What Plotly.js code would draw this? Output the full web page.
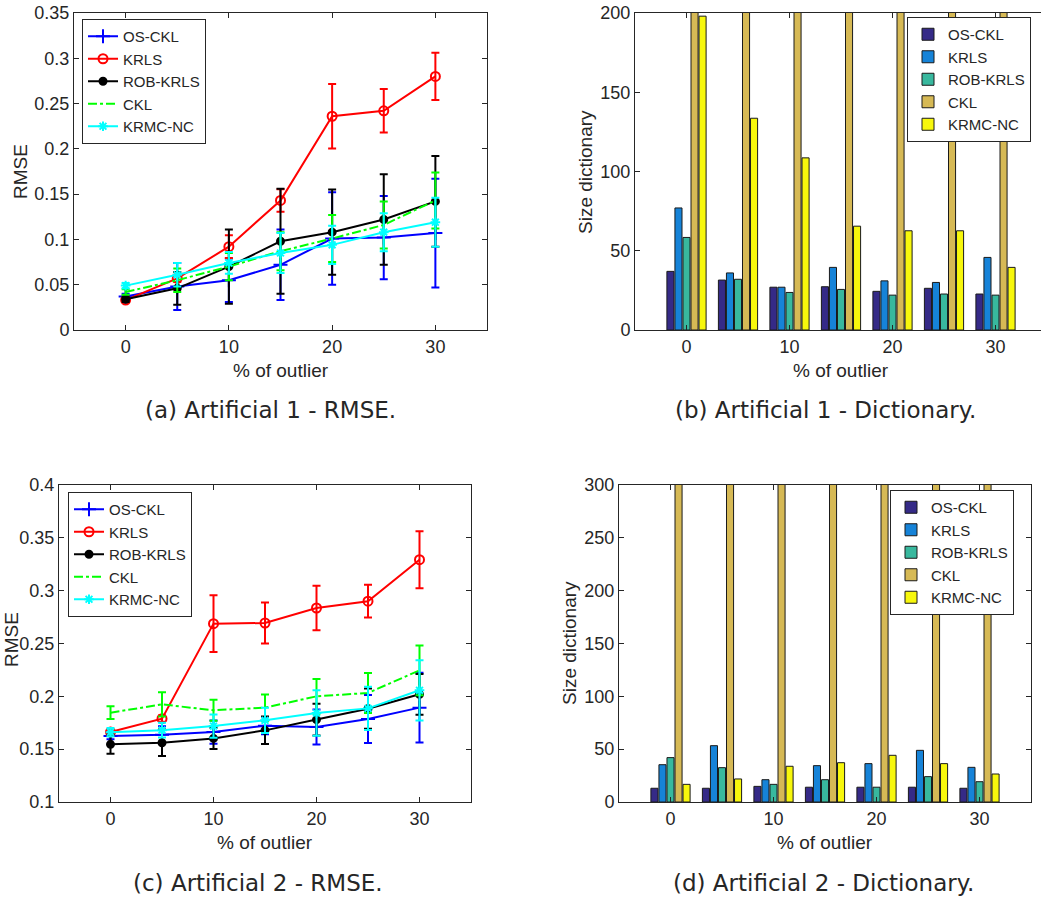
<!DOCTYPE html>
<html>
<head>
<meta charset="utf-8">
<script src="https://cdn.plot.ly/plotly-3.0.1.min.js"></script>
<style>
  html, body { margin: 0; padding: 0; background: #fff; overflow: hidden; }
  #fig { width: 1050px; height: 900px; }
</style>
</head>
<body>
<div id="fig"></div>
<script>
// Percentage of outliers injected in the training data
const outlier = [0, 5, 10, 15, 20, 25, 30];
const methods = ['OS-CKL', 'KRLS', 'ROB-KRLS', 'CKL', 'KRMC-NC'];

// Artificial 1 - RMSE (mean and standard deviation)
const rmse1_os   = [0.037, 0.048, 0.055, 0.072, 0.101, 0.102, 0.107];
const rmse1_osSd = [0.003, 0.026, 0.024, 0.039, 0.051, 0.046, 0.060];
const rmse1_krls   = [0.033, 0.057, 0.092, 0.143, 0.236, 0.242, 0.280];
const rmse1_krlsSd = [0.002, 0.004, 0.0125, 0.0125, 0.0355, 0.024, 0.026];
const rmse1_rob   = [0.034, 0.046, 0.070, 0.098, 0.108, 0.122, 0.142];
const rmse1_robSd = [0.003, 0.018, 0.041, 0.058, 0.047, 0.050, 0.050];
const rmse1_ckl   = [0.042, 0.055, 0.070, 0.087, 0.101, 0.116, 0.143];
const rmse1_cklSd = [0.003, 0.013, 0.015, 0.021, 0.026, 0.026, 0.031];
const rmse1_krmc   = [0.049, 0.061, 0.074, 0.085, 0.094, 0.108, 0.119];
const rmse1_krmcSd = [0.003, 0.013, 0.012, 0.022, 0.021, 0.021, 0.027];

// Artificial 1 - dictionary size
const dict1_os   = [37, 31.5, 27, 27.3, 24.4, 26.3, 22.7];
const dict1_krls = [77, 36, 27, 39.5, 31, 30, 45.8];
const dict1_rob  = [58.4, 32, 23.7, 25.6, 22, 22.7, 22];
const dict1_ckl  = [500, 500, 500, 500, 500, 500, 500];
const dict1_krmc = [198, 133.6, 108.6, 65.5, 62.6, 62.6, 39.5];

// Artificial 2 - RMSE (mean and standard deviation)
const rmse2_os   = [0.1625, 0.1637, 0.1662, 0.1722, 0.171, 0.1785, 0.1893];
const rmse2_osSd = [0.003, 0.008, 0.011, 0.008, 0.0165, 0.0227, 0.033];
const rmse2_krls   = [0.1662, 0.1789, 0.2688, 0.2694, 0.2836, 0.290, 0.3293];
const rmse2_krlsSd = [0.002, 0.003, 0.0268, 0.0194, 0.021, 0.0155, 0.027];
const rmse2_rob   = [0.1546, 0.1561, 0.1602, 0.1678, 0.178, 0.1883, 0.2019];
const rmse2_robSd = [0.009, 0.0125, 0.010, 0.013, 0.015, 0.019, 0.0193];
const rmse2_ckl   = [0.1845, 0.1924, 0.1868, 0.1893, 0.200, 0.2032, 0.2246];
const rmse2_cklSd = [0.006, 0.0115, 0.010, 0.0125, 0.0165, 0.019, 0.0235];
const rmse2_krmc   = [0.166, 0.168, 0.1719, 0.1773, 0.1842, 0.1886, 0.2057];
const rmse2_krmcSd = [0.004, 0.007, 0.011, 0.012, 0.0215, 0.0205, 0.0285];

// Artificial 2 - dictionary size
const dict2_os   = [13, 13, 14.8, 14, 14, 14, 13];
const dict2_krls = [35.3, 53.3, 21.1, 34.4, 36.3, 48.9, 32.8];
const dict2_rob  = [42, 32.5, 16.7, 21.1, 14, 24, 19.2];
const dict2_ckl  = [500, 500, 500, 500, 500, 500, 500];
const dict2_krmc = [16.7, 21.8, 33.8, 37.2, 44.2, 36.3, 26.5];

// ---- styling ----
const W = 1050, H = 900;
const px = v => v / W;
const py = v => 1 - v / H;
const txt = '#262626';
const tickFont = { family: 'Liberation Sans, Arial, sans-serif', size: 18, color: txt };

const lineStyles = [
  { color: '#0000ff', symbol: 'cross-thin-open', size: 10, dash: 'solid' },
  { color: '#ff0000', symbol: 'circle-open', size: 9, dash: 'solid' },
  { color: '#000000', symbol: 'circle', size: 7, dash: 'solid' },
  { color: '#00ff00', symbol: null, size: 0, dash: 'dashdot' },
  { color: '#00ffff', symbol: 'asterisk-open', size: 8, dash: 'solid' }
];
const barColors = ['#352a87', '#1683d8', '#38b89e', '#d6b955', '#f7f70c'];

function lineTrace(i, y, sd, xa, ya, leg) {
  const s = lineStyles[i];
  const t = {
    type: 'scatter', x: outlier, y: y, name: methods[i],
    xaxis: xa, yaxis: ya, legend: leg,
    mode: s.symbol ? 'lines+markers' : 'lines',
    line: { color: s.color, width: 2, dash: s.dash },
    error_y: { type: 'data', array: sd, visible: true, color: s.color, thickness: 2, width: 4 },
    cliponaxis: true
  };
  if (s.symbol) {
    t.marker = { symbol: s.symbol, size: s.size, color: s.color,
                 line: { color: s.color, width: 2 } };
  }
  return t;
}

function barTrace(i, y, xa, ya, leg) {
  return {
    type: 'bar', x: outlier, y: y, name: methods[i],
    xaxis: xa, yaxis: ya, legend: leg,
    marker: { color: barColors[i], line: { color: '#1a1a1a', width: 1 } }
  };
}

const data = [
  lineTrace(0, rmse1_os, rmse1_osSd, 'x', 'y', 'legend'),
  lineTrace(1, rmse1_krls, rmse1_krlsSd, 'x', 'y', 'legend'),
  lineTrace(2, rmse1_rob, rmse1_robSd, 'x', 'y', 'legend'),
  lineTrace(3, rmse1_ckl, rmse1_cklSd, 'x', 'y', 'legend'),
  lineTrace(4, rmse1_krmc, rmse1_krmcSd, 'x', 'y', 'legend'),

  barTrace(0, dict1_os, 'x2', 'y2', 'legend2'),
  barTrace(1, dict1_krls, 'x2', 'y2', 'legend2'),
  barTrace(2, dict1_rob, 'x2', 'y2', 'legend2'),
  barTrace(3, dict1_ckl, 'x2', 'y2', 'legend2'),
  barTrace(4, dict1_krmc, 'x2', 'y2', 'legend2'),

  lineTrace(0, rmse2_os, rmse2_osSd, 'x3', 'y3', 'legend3'),
  lineTrace(1, rmse2_krls, rmse2_krlsSd, 'x3', 'y3', 'legend3'),
  lineTrace(2, rmse2_rob, rmse2_robSd, 'x3', 'y3', 'legend3'),
  lineTrace(3, rmse2_ckl, rmse2_cklSd, 'x3', 'y3', 'legend3'),
  lineTrace(4, rmse2_krmc, rmse2_krmcSd, 'x3', 'y3', 'legend3'),

  barTrace(0, dict2_os, 'x4', 'y4', 'legend4'),
  barTrace(1, dict2_krls, 'x4', 'y4', 'legend4'),
  barTrace(2, dict2_rob, 'x4', 'y4', 'legend4'),
  barTrace(3, dict2_ckl, 'x4', 'y4', 'legend4'),
  barTrace(4, dict2_krmc, 'x4', 'y4', 'legend4')
];

function xAxis(x0, x1, anchor) {
  return {
    domain: [px(x0), px(x1)], anchor: anchor, range: [-5, 35],
    tickvals: [0, 10, 20, 30], ticks: 'inside', ticklen: 5, tickcolor: txt,
    showline: true, linecolor: txt, linewidth: 1, mirror: 'ticks',
    showgrid: false, zeroline: false, tickfont: tickFont, fixedrange: true
  };
}
function yAxis(y0, y1, anchor, range, dtick) {
  return {
    domain: [py(y1), py(y0)], anchor: anchor, range: range, dtick: dtick,
    tick0: 0, ticks: 'inside', ticklen: 5, tickcolor: txt,
    showline: true, linecolor: txt, linewidth: 1, mirror: 'ticks',
    showgrid: false, zeroline: false, tickfont: tickFont, fixedrange: true
  };
}
function legendAt(x, y) {
  return {
    x: px(x), y: py(y), xanchor: 'left', yanchor: 'top',
    bgcolor: '#ffffff', bordercolor: txt, borderwidth: 1,
    font: { family: 'Liberation Sans, Arial, sans-serif', size: 15, color: txt },
    tracegroupgap: 0, itemwidth: 30, traceorder: 'normal'
  };
}

function label(text, x, y, angle, size, family) {
  return {
    text: text, xref: 'paper', yref: 'paper', x: px(x), y: py(y),
    xanchor: 'center', yanchor: 'middle', showarrow: false, textangle: angle || 0,
    font: { family: family || 'Liberation Sans, Arial, sans-serif', size: size || 19, color: txt }
  };
}
const capFont = 'DejaVu Sans, sans-serif';

const layout = {
  width: W, height: H,
  margin: { l: 0, r: 0, t: 0, b: 0 },
  paper_bgcolor: '#ffffff', plot_bgcolor: '#ffffff',
  barmode: 'group', bargap: 0.22, bargroupgap: 0.12,
  xaxis:  xAxis(74, 487, 'y'),
  yaxis:  yAxis(13, 330, 'x', [0, 0.35], 0.05),
  xaxis2: xAxis(635, 1047, 'y2'),
  yaxis2: yAxis(13, 330, 'x2', [0, 200], 50),
  xaxis3: xAxis(59, 471, 'y3'),
  yaxis3: yAxis(485, 802, 'x3', [0.1, 0.4], 0.05),
  xaxis4: xAxis(619, 1031, 'y4'),
  yaxis4: yAxis(485, 802, 'x4', [0, 300], 50),
  legend:  legendAt(82, 19),
  legend2: legendAt(907, 17),
  legend3: legendAt(68, 492),
  legend4: legendAt(890, 490),
  showlegend: true,
  annotations: [
    label('RMSE', 20, 172, -90),
    label('% of outlier', 281, 370),
    label('Size dictionary', 585, 172, -90),
    label('% of outlier', 841, 370),
    label('RMSE', 11, 640, -90),
    label('% of outlier', 265, 842),
    label('Size dictionary', 569, 643, -90),
    label('% of outlier', 825, 842),
    label('(a) Artificial 1 - RMSE.', 270, 410, 0, 23, capFont),
    label('(b) Artificial 1 - Dictionary.', 825, 410, 0, 23, capFont),
    label('(c) Artificial 2 - RMSE.', 258, 883, 0, 23, capFont),
    label('(d) Artificial 2 - Dictionary.', 823, 883, 0, 23, capFont)
  ]
};

Plotly.newPlot('fig', data, layout, { displayModeBar: false, staticPlot: true });
</script>
</body>
</html>
